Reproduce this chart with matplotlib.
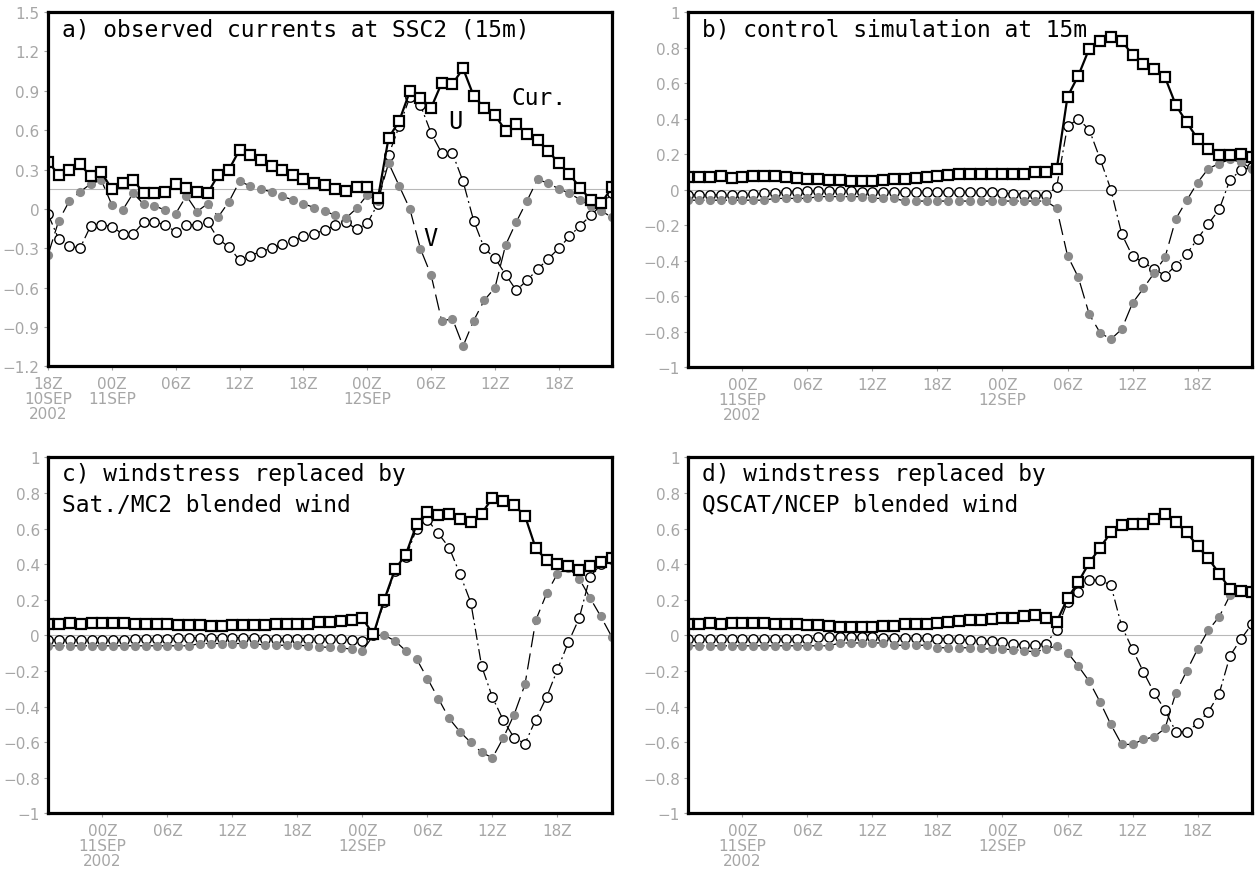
import matplotlib
matplotlib.use("Agg")
import matplotlib.pyplot as plt

# hours counted from 18Z 10SEP2002, hourly data
hours_obs = list(range(0, 54))
hours_sim = list(range(1, 54))

# a) observed currents at SSC2 (15m)
obs_cur = [0.36, 0.26, 0.30, 0.34, 0.25, 0.28, 0.15, 0.20, 0.22, 0.12,
           0.12, 0.13, 0.19, 0.16, 0.13, 0.12, 0.26, 0.30, 0.45, 0.41,
           0.37, 0.33, 0.30, 0.26, 0.23, 0.20, 0.18, 0.15, 0.135, 0.17,
           0.17, 0.08, 0.54, 0.67, 0.895, 0.845, 0.77, 0.96, 0.95, 1.07,
           0.86, 0.77, 0.715, 0.595, 0.645, 0.57, 0.525, 0.44, 0.35, 0.265,
           0.16, 0.07, 0.045, 0.165]
obs_u = [-0.04, -0.23, -0.28, -0.30, -0.13, -0.12, -0.135, -0.19, -0.19, -0.10,
         -0.10, -0.12, -0.175, -0.12, -0.12, -0.10, -0.23, -0.29, -0.39, -0.355,
         -0.325, -0.30, -0.27, -0.245, -0.21, -0.19, -0.16, -0.125, -0.10, -0.155,
         -0.11, 0.04, 0.41, 0.63, 0.85, 0.79, 0.577, 0.425, 0.425, 0.21,
         -0.09, -0.30, -0.375, -0.50, -0.62, -0.545, -0.46, -0.38, -0.30, -0.21,
         -0.127, -0.05, 0.03, 0.12]
obs_v = [-0.35, -0.09, 0.06, 0.13, 0.19, 0.22, 0.03, -0.01, 0.12, 0.035,
         0.025, -0.01, -0.035, 0.10, -0.02, 0.04, -0.06, 0.055, 0.21, 0.175,
         0.15, 0.13, 0.095, 0.07, 0.04, 0.01, -0.015, -0.05, -0.07, 0.005,
         0.107, 0.06, 0.35, 0.175, 0.0, -0.305, -0.505, -0.855, -0.835, -1.045,
         -0.85, -0.695, -0.60, -0.275, -0.10, 0.06, 0.225, 0.196, 0.153, 0.12,
         0.07, 0.02, -0.015, -0.065]

# b) control simulation
ctl_cur = [0.071, 0.071, 0.071, 0.076, 0.065, 0.072, 0.074, 0.074, 0.074, 0.071,
           0.067, 0.061, 0.061, 0.056, 0.052, 0.046, 0.046, 0.048, 0.052, 0.058,
           0.061, 0.067, 0.071, 0.076, 0.08, 0.09, 0.09, 0.09, 0.09, 0.09,
           0.086, 0.09, 0.10, 0.10, 0.114, 0.523, 0.642, 0.793, 0.838, 0.857,
           0.838, 0.759, 0.706, 0.68, 0.632, 0.476, 0.378, 0.287, 0.231, 0.193,
           0.193, 0.199, 0.184]
ctl_u = [-0.03, -0.03, -0.03, -0.03, -0.03, -0.03, -0.028, -0.022, -0.018, -0.015,
         -0.012, -0.01, -0.008, -0.008, -0.008, -0.01, -0.012, -0.015, -0.015, -0.015,
         -0.015, -0.015, -0.015, -0.012, -0.015, -0.015, -0.015, -0.015, -0.015, -0.02,
         -0.023, -0.029, -0.033, -0.033, 0.014, 0.357, 0.397, 0.338, 0.174, 0.0,
         -0.25, -0.376, -0.41, -0.448, -0.485, -0.429, -0.363, -0.278, -0.193, -0.112,
         0.056, 0.108, 0.127]
ctl_v = [-0.06, -0.06, -0.06, -0.06, -0.06, -0.06, -0.06, -0.06, -0.05, -0.05,
         -0.05, -0.05, -0.04, -0.04, -0.04, -0.04, -0.04, -0.05, -0.05, -0.05,
         -0.065, -0.065, -0.065, -0.065, -0.065, -0.065, -0.065, -0.065, -0.065, -0.065,
         -0.065, -0.065, -0.065, -0.065, -0.105, -0.372, -0.495, -0.702, -0.806, -0.844,
         -0.787, -0.64, -0.557, -0.47, -0.382, -0.165, -0.061, 0.039, 0.118, 0.146,
         0.17, 0.155, 0.118]

# c) Sat./MC2 blended wind
mc2_cur = [0.067, 0.067, 0.07, 0.065, 0.07, 0.07, 0.07, 0.068, 0.067, 0.066,
           0.065, 0.063, 0.06, 0.058, 0.057, 0.056, 0.056, 0.057, 0.058, 0.06,
           0.061, 0.062, 0.063, 0.065, 0.067, 0.073, 0.077, 0.08, 0.086, 0.096,
           0.006, 0.199, 0.371, 0.455, 0.624, 0.695, 0.676, 0.68, 0.652, 0.639,
           0.685, 0.773, 0.757, 0.732, 0.672, 0.489, 0.423, 0.40, 0.39, 0.367,
           0.391, 0.414, 0.433]
mc2_u = [-0.025, -0.025, -0.025, -0.025, -0.025, -0.025, -0.025, -0.025, -0.02, -0.02,
         -0.02, -0.02, -0.012, -0.012, -0.012, -0.012, -0.012, -0.012, -0.012, -0.012,
         -0.018, -0.018, -0.018, -0.018, -0.017, -0.017, -0.022, -0.022, -0.026, -0.03,
         0.0, 0.19, 0.36, 0.44, 0.60, 0.65, 0.573, 0.494, 0.345, 0.185,
         -0.172, -0.348, -0.476, -0.575, -0.607, -0.472, -0.345, -0.191, -0.039, 0.096,
         0.33, 0.40, 0.43]
mc2_v = [-0.058, -0.058, -0.058, -0.058, -0.058, -0.058, -0.058, -0.058, -0.058, -0.058,
         -0.058, -0.058, -0.058, -0.058, -0.045, -0.045, -0.045, -0.045, -0.045, -0.045,
         -0.055, -0.055, -0.055, -0.055, -0.058, -0.064, -0.067, -0.069, -0.077, -0.086,
         0.0, 0.002, -0.03, -0.086, -0.133, -0.242, -0.354, -0.466, -0.541, -0.601,
         -0.657, -0.687, -0.575, -0.444, -0.275, 0.086, 0.236, 0.348, 0.38, 0.32,
         0.212, 0.107, -0.006]

# d) QSCAT/NCEP blended wind
qsc_cur = [0.067, 0.067, 0.07, 0.065, 0.07, 0.07, 0.07, 0.068, 0.067, 0.066,
           0.063, 0.06, 0.058, 0.055, 0.05, 0.05, 0.05, 0.05, 0.052, 0.055,
           0.065, 0.065, 0.065, 0.071, 0.077, 0.08, 0.086, 0.086, 0.09, 0.096,
           0.101, 0.109, 0.114, 0.096, 0.077, 0.208, 0.301, 0.408, 0.493, 0.579,
           0.62, 0.625, 0.625, 0.657, 0.68, 0.635, 0.579, 0.504, 0.433, 0.348,
           0.26, 0.249, 0.245]
qsc_u = [-0.022, -0.022, -0.022, -0.022, -0.022, -0.022, -0.022, -0.022, -0.022, -0.022,
         -0.022, -0.022, -0.008, -0.008, -0.008, -0.008, -0.008, -0.008, -0.015, -0.015,
         -0.015, -0.015, -0.015, -0.017, -0.017, -0.022, -0.026, -0.03, -0.03, -0.036,
         -0.045, -0.054, -0.054, -0.045, 0.03, 0.189, 0.245, 0.311, 0.311, 0.283,
         0.052, -0.077, -0.204, -0.322, -0.419, -0.541, -0.541, -0.494, -0.429, -0.326,
         -0.114, -0.02, 0.062]
qsc_v = [-0.058, -0.058, -0.058, -0.058, -0.058, -0.058, -0.058, -0.058, -0.058, -0.058,
         -0.058, -0.058, -0.058, -0.058, -0.042, -0.042, -0.042, -0.042, -0.042, -0.055,
         -0.055, -0.055, -0.055, -0.069, -0.069, -0.069, -0.069, -0.073, -0.077, -0.077,
         -0.079, -0.086, -0.092, -0.077, -0.058, -0.096, -0.172, -0.257, -0.373, -0.5,
         -0.612, -0.612, -0.584, -0.569, -0.522, -0.322, -0.2, -0.077, 0.03, 0.105,
         0.226, 0.25, 0.24]

xt_obs = [0, 6, 12, 18, 24, 30, 36, 42, 48]
xl_obs = ["18Z\n10SEP\n2002", "00Z\n11SEP", "06Z", "12Z", "18Z",
          "00Z\n12SEP", "06Z", "12Z", "18Z"]
xt_sim = [6, 12, 18, 24, 30, 36, 42, 48]
xl_sim = ["00Z\n11SEP\n2002", "06Z", "12Z", "18Z",
          "00Z\n12SEP", "06Z", "12Z", "18Z"]
yt_obs = [-1.2, -0.9, -0.6, -0.3, 0, 0.3, 0.6, 0.9, 1.2, 1.5]
yt_sim = [-1, -0.8, -0.6, -0.4, -0.2, 0, 0.2, 0.4, 0.6, 0.8, 1]

TFONT = "DejaVu Sans Mono"
GRAY_TXT = "#a6a6a6"


def ylab(v):
    if abs(v) < 1e-9:
        return "0"
    s = ("%g" % abs(v))
    return ("\u2212" + s) if v < 0 else s


def panel(ax, x, cur, u, v, xt, xl, yt, ylim, xlim, refline):
    ax.axhline(refline, color="#b8b8b8", lw=0.8, zorder=1)
    ax.plot(x, u, color="black", lw=0.9, ls=(0, (9, 3, 1.5, 3)),
            marker="o", ms=6.8, mfc="white", mec="black", mew=1.0, zorder=3)
    ax.plot(x, v, color="black", lw=0.9, ls=(0, (13, 5)),
            marker="o", ms=6.6, mfc="#8a8a8a", mec="#8a8a8a", mew=0, zorder=4)
    ax.plot(x, cur, color="black", lw=1.6, ls="-",
            marker="s", ms=6.8, mfc="white", mec="black", mew=1.6, zorder=5)
    ax.set_xlim(*xlim)
    ax.set_ylim(*ylim)
    ax.set_xticks(xt)
    ax.set_xticklabels(xl, linespacing=1.0)
    ax.set_yticks(yt)
    ax.set_yticklabels([ylab(t) for t in yt])
    ax.tick_params(direction="out", length=3, width=0.8, color="#a0a0a0",
                   labelcolor=GRAY_TXT, labelsize=11, pad=3)
    ax.tick_params(axis="x", pad=4)
    for sp in ax.spines.values():
        sp.set_linewidth(2.3)
        sp.set_zorder(10)


fig = plt.figure(figsize=(12.58, 8.70), dpi=100)

ax_a = fig.add_axes([0.0382, 0.5776, 0.4483, 0.4075])
ax_b = fig.add_axes([0.5471, 0.5770, 0.4479, 0.4080])
ax_c = fig.add_axes([0.0384, 0.0638, 0.4478, 0.4092])
ax_d = fig.add_axes([0.5471, 0.0638, 0.4479, 0.4092])

panel(ax_a, hours_obs, obs_cur, obs_u, obs_v, xt_obs, xl_obs, yt_obs,
      (-1.2, 1.5), (0, 53), 0.15)
panel(ax_b, hours_sim, ctl_cur, ctl_u, ctl_v, xt_sim, xl_sim, yt_sim,
      (-1, 1), (1, 53), 0.0)
panel(ax_c, hours_sim, mc2_cur, mc2_u, mc2_v, xt_sim, xl_sim, yt_sim,
      (-1, 1), (1, 53), 0.0)
panel(ax_d, hours_sim, qsc_cur, qsc_u, qsc_v, xt_sim, xl_sim, yt_sim,
      (-1, 1), (1, 53), 0.0)

tkw = dict(family=TFONT, fontsize=16.5, color="black", va="center", ha="left",
           zorder=2)
ax_a.text(0.025, 0.952, "a) observed currents at SSC2 (15m)",
          transform=ax_a.transAxes, **tkw)
ax_b.text(0.024, 0.952, "b) control simulation at 15m",
          transform=ax_b.transAxes, **tkw)
ax_c.text(0.024, 0.954, "c) windstress replaced by",
          transform=ax_c.transAxes, **tkw)
ax_c.text(0.024, 0.869, "Sat./MC2 blended wind",
          transform=ax_c.transAxes, **tkw)
ax_d.text(0.024, 0.954, "d) windstress replaced by",
          transform=ax_d.transAxes, **tkw)
ax_d.text(0.024, 0.869, "QSCAT/NCEP blended wind",
          transform=ax_d.transAxes, **tkw)

# series labels in panel a
ax_a.text(43.6, 0.845, "Cur.", **tkw)
ax_a.text(38.3, 0.667, "U", family=TFONT, fontsize=17, ha="center", va="center")
ax_a.text(35.9, -0.223, "V", family=TFONT, fontsize=17, ha="center", va="center")

fig.savefig("out.png", dpi=100)
